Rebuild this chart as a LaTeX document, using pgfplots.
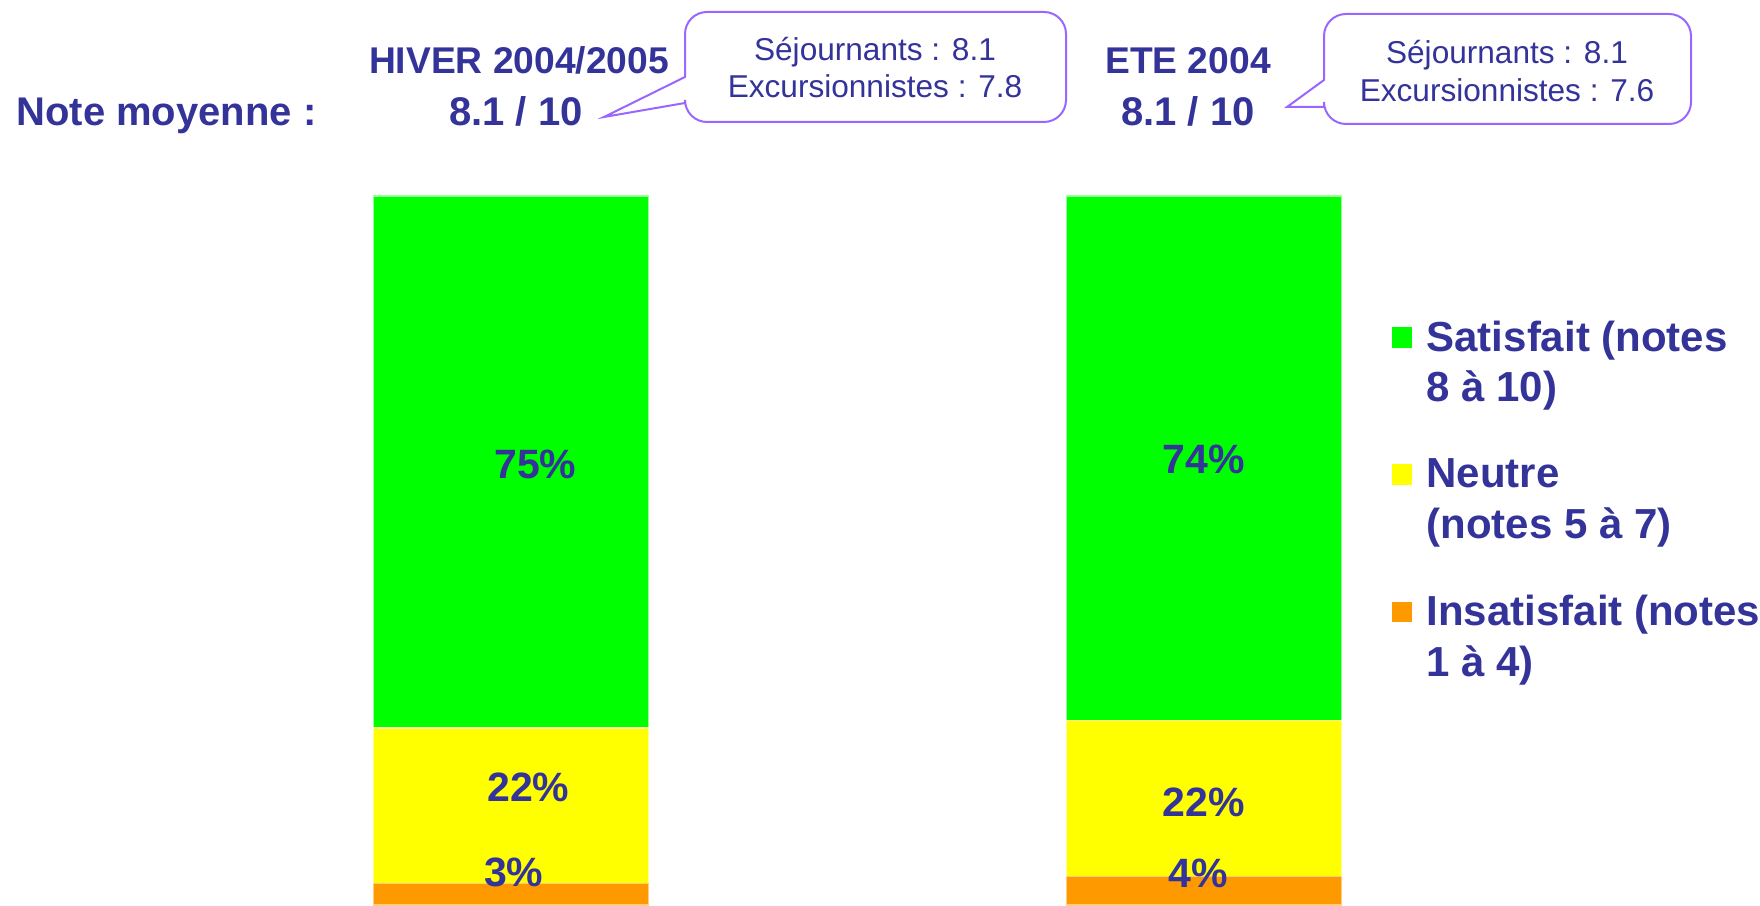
\documentclass[border=0pt]{standalone}
\usepackage{pgfplots}
\pgfplotsset{compat=1.18}
\usepackage{fontspec}
\setmainfont{Liberation Sans}
\definecolor{nb}{HTML}{333399}
\definecolor{cgreen}{HTML}{00FF00}
\definecolor{cyellow}{HTML}{FFFF00}
\definecolor{corange}{HTML}{FF9900}
\definecolor{cpurple}{HTML}{9966FF}
\tikzset{pct/.style={inner sep=0pt, text=nb, font=\fontsize{20.5}{24}\selectfont\bfseries}}
\begin{document}
\begin{tikzpicture}
\useasboundingbox (0pt,0pt) rectangle (880pt,452.5pt);
% headers
\begin{scope}[every node/.style={inner sep=0pt, text=nb, font=\fontsize{20}{23}\selectfont\bfseries}]
\node[anchor=base west] at (8pt,389.5pt) {Note moyenne :};
\node[anchor=base, font=\fontsize{18.6}{22}\selectfont\bfseries] at (259.5pt,415.5pt) {HIVER 2004/2005};
\node[anchor=base] at (258pt,389.5pt) {8.1 / 10};
\node[anchor=base, font=\fontsize{18.6}{22}\selectfont\bfseries] at (594pt,415.5pt) {ETE 2004};
\node[anchor=base] at (594pt,389.5pt) {8.1 / 10};
\end{scope}
% callouts
\draw[cpurple, line width=1pt, fill=white] (302pt,394pt) -- (342.5pt,414pt) -- (342.5pt,435.5pt)
  arc[start angle=180,end angle=90,radius=11pt] -- (522pt,446.5pt)
  arc[start angle=90,end angle=0,radius=11pt] -- (533pt,402.5pt)
  arc[start angle=0,end angle=-90,radius=11pt] -- (353.5pt,391.5pt)
  arc[start angle=270,end angle=180,radius=11pt] -- (342.5pt,401pt) -- cycle;
\draw[cpurple, line width=1pt, fill=white] (643.5pt,399pt) -- (662pt,412.5pt) -- (662pt,434.5pt)
  arc[start angle=180,end angle=90,radius=11pt] -- (834.5pt,445.5pt)
  arc[start angle=90,end angle=0,radius=11pt] -- (845.5pt,401.5pt)
  arc[start angle=0,end angle=-90,radius=11pt] -- (673pt,390.5pt)
  arc[start angle=270,end angle=180,radius=11pt] -- (662pt,399pt) -- cycle;
\begin{scope}[every node/.style={inner sep=0pt, text=nb, font=\fontsize{15.8}{19}\selectfont, anchor=base}]
\node at (437.5pt,422pt) {Séjournants : 8.1};
\node at (437.5pt,403.75pt) {Excursionnistes : 7.8};
\node at (753.5pt,420.5pt) {Séjournants : 8.1};
\node at (753.5pt,401.75pt) {Excursionnistes : 7.6};
\end{scope}
\begin{axis}[
  at={(82.25pt,0pt)}, anchor=south west,
  scale only axis, width=693pt, height=354.5pt,
  xmin=-0.5, xmax=1.5, ymin=0, ymax=100,
  hide axis, clip=false,
  ybar stacked, bar width=137.5pt,
  reverse legend,
  legend style={at={(0.885,0.83)}, anchor=north west, draw=none, fill=none,
    inner sep=0pt, row sep=23pt,
    font=\fontsize{21}{25.3}\selectfont\bfseries,
    text=nb,
    cells={align=left, inner sep=0pt},
    /tikz/every odd column/.append style={column sep=5.3pt}},
  legend cell align=left,
  after end axis/.code={
    \node[pct] at (axis cs:0.035,62.2) {75\%};
    \node[pct] at (axis cs:0.025,16.6) {22\%};
    \node[pct] at (axis cs:0.004,4.65) {3\%};
    \node[pct] at (axis cs:1,62.8) {74\%};
    \node[pct] at (axis cs:1,14.5) {22\%};
    \node[pct] at (axis cs:0.992,4.5) {4\%};
  },
]
\addplot[fill=corange, draw=corange!50!white, line width=0.75pt,
  legend image code/.code={\fill[corange] (0pt,8pt) rectangle (9.5pt,17.5pt);}] coordinates {(0,3) (1,4)};
\addlegendentry{Insatisfait (notes\\1 à 4)}
\addplot[fill=cyellow, draw=cyellow!40!white, line width=0.75pt,
  legend image code/.code={\fill[cyellow] (0pt,8pt) rectangle (9.5pt,17.5pt);}] coordinates {(0,22) (1,22)};
\addlegendentry{Neutre\\(notes 5 à 7)}
\addplot[fill=cgreen, draw=cgreen!40!white, line width=0.75pt,
  legend image code/.code={\fill[cgreen] (0pt,8pt) rectangle (9.5pt,17.5pt);}] coordinates {(0,75) (1,74)};
\addlegendentry{Satisfait (notes\\8 à 10)}
\end{axis}
\end{tikzpicture}
\end{document}
